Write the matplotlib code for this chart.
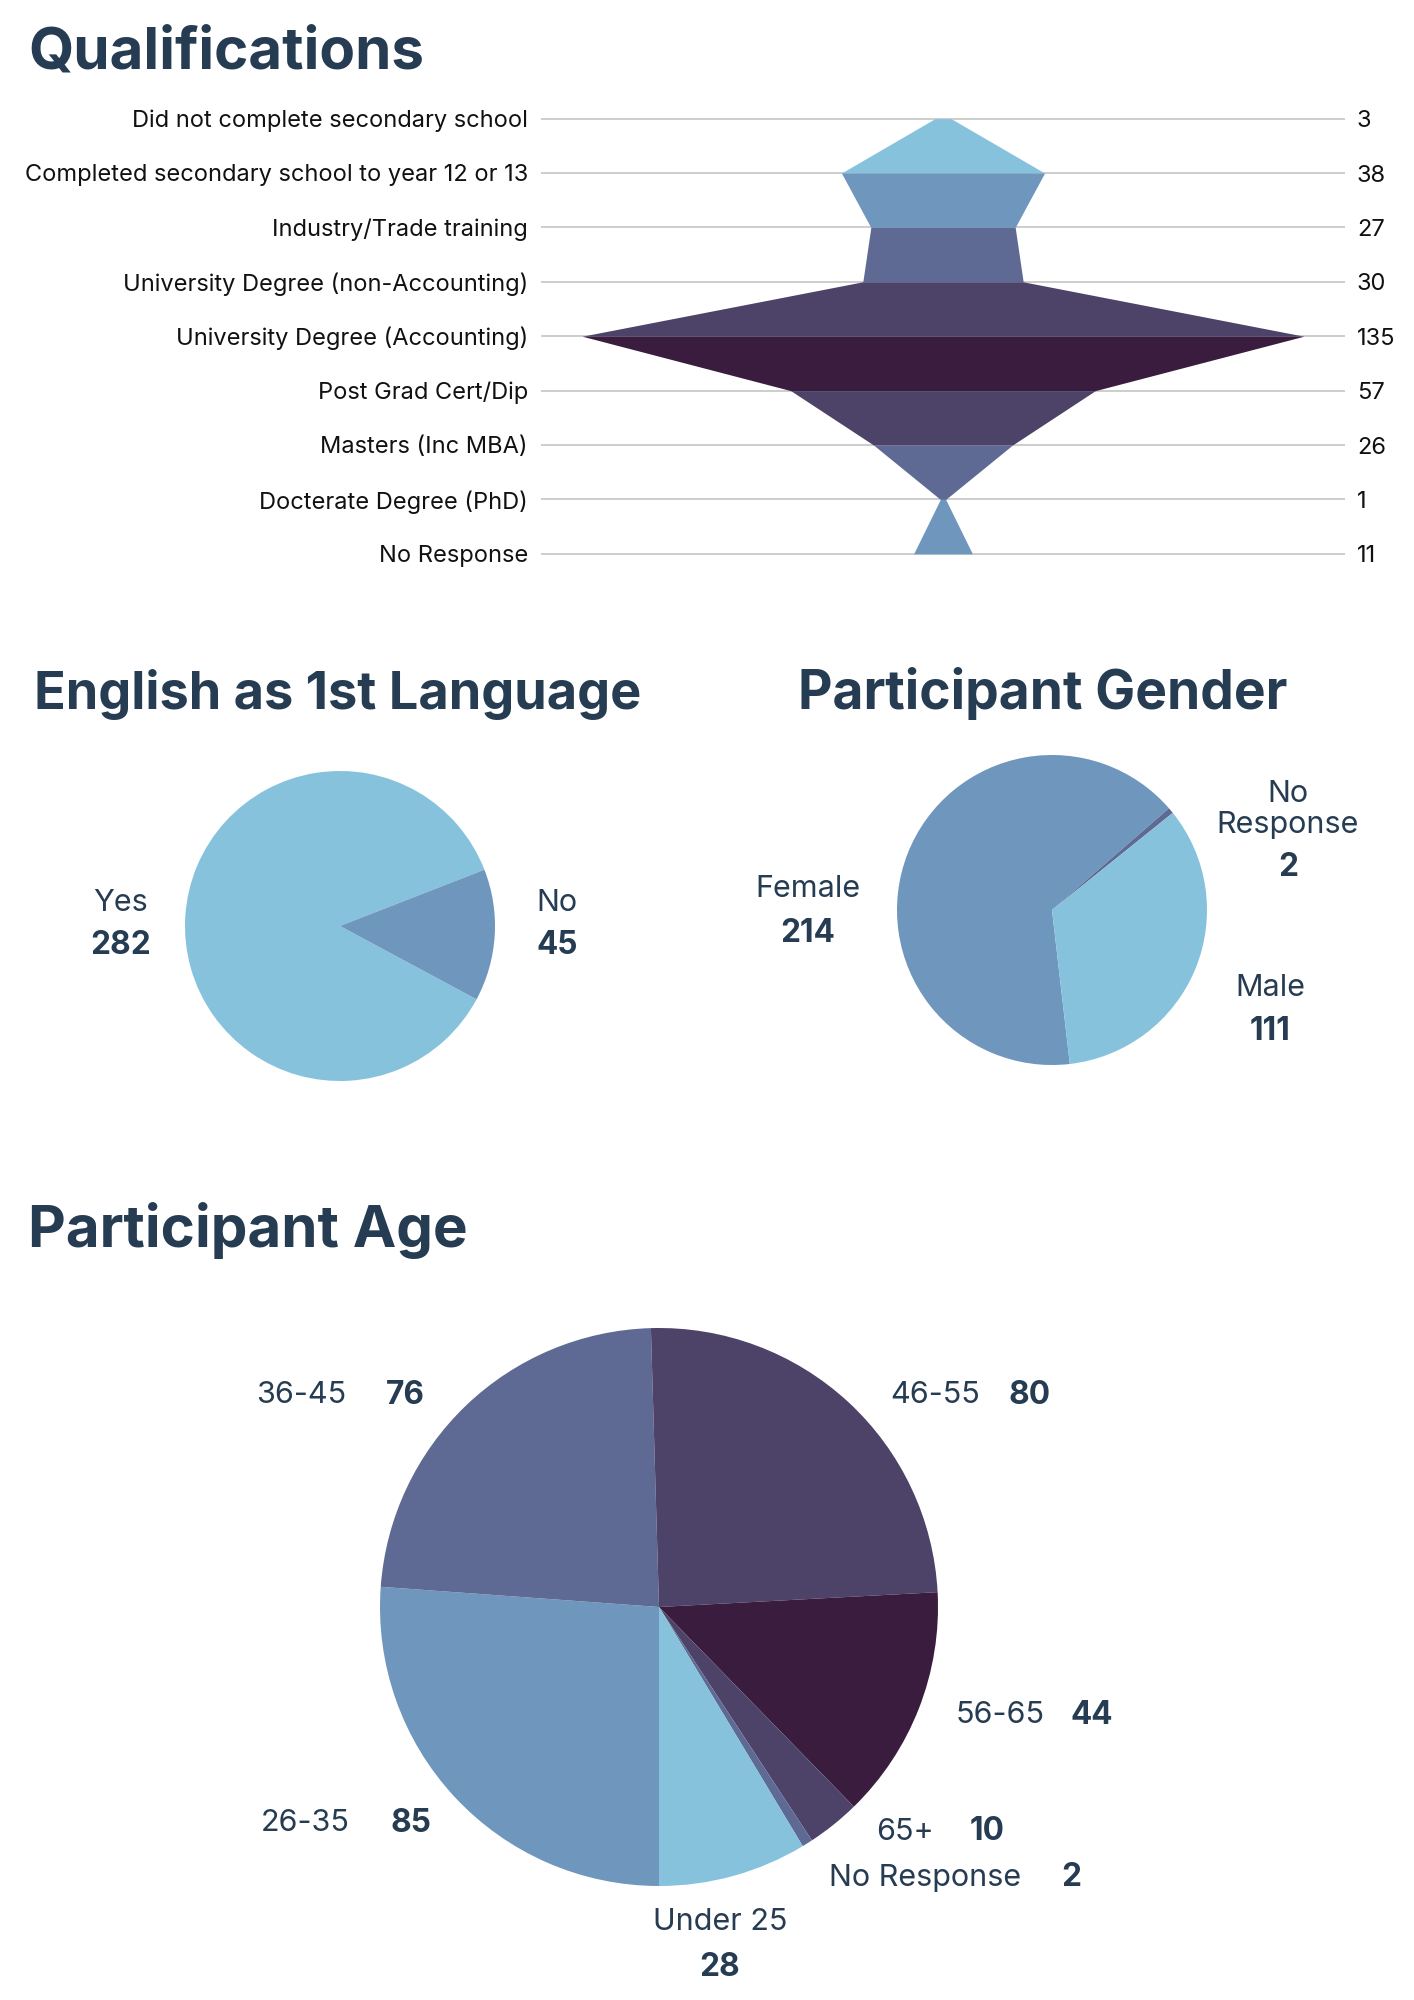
import matplotlib
matplotlib.use("Agg")
import matplotlib.pyplot as plt
import matplotlib.transforms as mtrans

# ---------------- data ----------------
qual_categories = [
    "Did not complete secondary school",
    "Completed secondary school to year 12 or 13",
    "Industry/Trade training",
    "University Degree (non-Accounting)",
    "University Degree (Accounting)",
    "Post Grad Cert/Dip",
    "Masters (Inc MBA)",
    "Docterate Degree (PhD)",
    "No Response",
]
qual_counts = [3, 38, 27, 30, 135, 57, 26, 1, 11]

lang_labels = ["Yes", "No"]
lang_counts = [282, 45]

gender_labels = ["Female", "No Response", "Male"]
gender_counts = [214, 2, 111]

age_labels = ["26-35", "36-45", "46-55", "56-65", "65+", "No Response", "Under 25"]
age_counts = [85, 76, 80, 44, 10, 2, 28]

# ---------------- style ----------------
C1 = "#86C2DC"
C2 = "#6F96BD"
C3 = "#5E6A93"
C4 = "#4D4268"
C5 = "#3A1C3E"
NAVY = "#263C52"
qual_seg_colors = [C1, C2, C3, C4, C5, C4, C3, C2]
lang_colors = [C1, C2]
gender_colors = [C2, C3, C1]
age_colors = [C2, C3, C4, C5, C4, C3, C1]

plt.rcParams["font.family"] = ["Inter", "DejaVu Sans"]

W, H = 1414, 2000
fig = plt.figure(figsize=(W / 100, H / 100), dpi=100)
fig.patch.set_facecolor("white")


def px_axes(x0, y0, x1, y1, **kw):
    return fig.add_axes([x0 / W, 1 - y1 / H, (x1 - x0) / W, (y1 - y0) / H], **kw)


# ---------------- funnel ----------------
ax = px_axes(541, 118.6, 1345, 553.8)
n = len(qual_counts)
ax.set_xlim(-75.2, 75.2)
ax.set_ylim(n - 1, 0)
ax.hlines(range(n), -75.2, 75.2, color="#C9C9C9", lw=1.3, zorder=0, clip_on=False)
for i in range(n - 1):
    a, b = qual_counts[i] / 2, qual_counts[i + 1] / 2
    ax.fill_betweenx([i, i + 1], [-a, -b], [a, b], color=qual_seg_colors[i],
                     lw=0, zorder=2)
for s in ax.spines.values():
    s.set_visible(False)
ax.set_xticks([])
ax.set_yticks(range(n))
ax.set_yticklabels(qual_categories, fontsize=17, color="#111111")
ax.tick_params(axis="y", length=0, pad=9.4)
tr = mtrans.offset_copy(mtrans.blended_transform_factory(ax.transAxes, ax.transData),
                        fig=fig, x=12, y=0, units="dots")
for i, v in enumerate(qual_counts):
    ax.text(1, i, str(v), transform=tr, ha="left", va="center_baseline",
            fontsize=17, color="#111111")
ax.patch.set_alpha(0)

# ---------------- pies ----------------
def pie_axes(cx, cy, r):
    a = px_axes(cx - r, cy - r, cx + r, cy + r)
    a.set_xlim(-1, 1)
    a.set_ylim(-1, 1)
    a.axis("off")
    return a

a1 = pie_axes(340, 926, 155)
a1.pie(lang_counts, colors=lang_colors, startangle=21.3, counterclock=True,
       radius=1, center=(0, 0), wedgeprops=dict(linewidth=0))
a1.set_xlim(-1, 1); a1.set_ylim(-1, 1)

a2 = pie_axes(1052, 910, 155)
a2.pie(gender_counts, colors=gender_colors, startangle=-83.4, counterclock=False,
       radius=1, center=(0, 0), wedgeprops=dict(linewidth=0))
a2.set_xlim(-1, 1); a2.set_ylim(-1, 1)

a3 = pie_axes(659, 1607, 279)
a3.pie(age_counts, colors=age_colors, startangle=-90, counterclock=False,
       radius=1, center=(0, 0), wedgeprops=dict(linewidth=0))
a3.set_xlim(-1, 1); a3.set_ylim(-1, 1)

# ---------------- overlay text ----------------
ov = fig.add_axes([0, 0, 1, 1])
ov.set_xlim(0, W)
ov.set_ylim(H, 0)
ov.axis("off")
ov.patch.set_alpha(0)

ov.text(28, 69, "Qualifications", fontsize=42, weight="bold", color=NAVY,
        ha="left", va="baseline")
ov.text(338, 709, "English as 1st Language", fontsize=37.6, weight="bold", color=NAVY,
        ha="center", va="baseline")
ov.text(1043, 709, "Participant Gender", fontsize=38.4, weight="bold", color=NAVY,
        ha="center", va="baseline")
ov.text(28, 1247, "Participant Age", fontsize=42, weight="bold", color=NAVY,
        ha="left", va="baseline")

LS = 22
VS = 22.8


def lab(x, y, s, bold=False, ha="center"):
    ov.text(x, y, s, fontsize=VS if bold else LS, weight="bold" if bold else "normal",
            color=NAVY, ha=ha, va="center")


# English
lab(121, 903, lang_labels[0]); lab(121, 946, str(lang_counts[0]), True)
lab(557, 903, lang_labels[1]); lab(557, 946, str(lang_counts[1]), True)

# Gender
lab(808, 889, gender_labels[0]); lab(808, 933, str(gender_counts[0]), True)
lab(1288, 794, "No"); lab(1288, 825, "Response"); lab(1288, 867, str(gender_counts[1]), True)
lab(1270, 988, gender_labels[2]); lab(1270, 1031, str(gender_counts[2]), True)

# Age
age_pos = {
    "36-45": ((301, 1395), (405, 1395)),
    "46-55": ((935, 1395), (1030, 1395)),
    "56-65": ((1000, 1715), (1092, 1715)),
    "65+": ((905, 1832), (987, 1832)),
    "No Response": ((925, 1878), (1071, 1878)),
    "26-35": ((305, 1823), (411, 1823)),
}
for name, cnt in zip(age_labels, age_counts):
    if name == "Under 25":
        lab(720, 1922, name); lab(720, 1968, str(cnt), True)
    else:
        (lx, ly), (vx, vy) = age_pos[name]
        lab(lx, ly, name); lab(vx, vy, str(cnt), True)

fig.savefig("out.png", dpi=100, facecolor="white")
